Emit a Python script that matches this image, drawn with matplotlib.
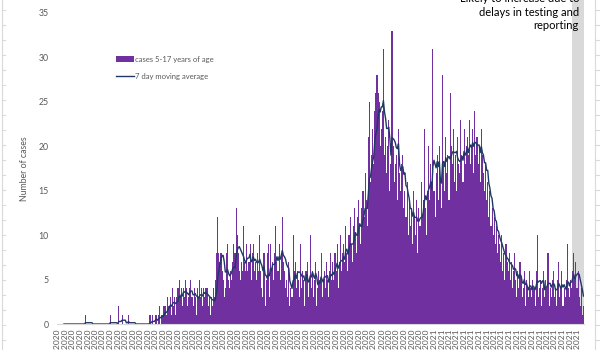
import matplotlib
matplotlib.use("Agg")
import matplotlib.pyplot as plt
import pandas as pd
from matplotlib.lines import Line2D

plt.rcParams["font.family"] = ["Lato", "DejaVu Sans"]

# daily cases, 5-17 years of age
start_date = "2020-01-20"
cases_jan_apr = [
    0, 0, 0, 0, 0, 0, 0, 0, 0, 0,
    0, 0, 0, 0, 0, 0, 0, 0, 0, 0,
    0, 0, 0, 0, 0, 0, 1, 0, 0, 0,
    0, 0, 0, 0, 0, 0, 0, 0, 0, 0,
    0, 0, 0, 0, 0, 0, 0, 0, 0, 1,
    0, 0, 0, 0, 0, 0, 0, 2, 0, 0,
    1, 0, 0, 0, 0, 0, 1, 0, 0, 0,
    0, 0, 0, 0, 0, 0, 0, 0, 0, 0,
    0, 0, 0, 0, 0, 0,
]
cases_apr_may = [1, 0, 1, 0, 0, 1, 1, 0, 1, 2, 0, 1, 1, 2]
cases_may = [2, 1, 3, 2, 2, 3, 1, 4, 2, 3, 1, 3, 4]
cases_may_jun = [5, 3, 4, 2, 4, 3, 5, 4, 2, 3, 4, 5, 3, 2, 4, 3, 1, 4, 3, 5]
cases_jun = [3, 4, 2, 4, 3, 4, 4, 2, 3, 1, 3, 2, 4, 3, 5]
cases_jun_jul = [8, 12, 8, 7, 8, 6, 5, 3, 4, 8, 9, 5, 4]
cases_jul = [6, 5, 7, 9, 8, 13, 10, 8, 6, 5, 7, 6, 11, 7, 6]
cases_jul_aug = [9, 6, 7, 9, 5, 8, 9, 6, 7, 5, 8, 6, 10, 6, 4,
                 3, 8, 2, 5, 8, 9, 3, 9, 6, 7]
cases_aug = [5, 8, 11, 7, 6, 9, 5, 8, 12, 7, 6, 4, 5, 3, 7, 2, 4, 3, 10, 6]
cases_aug_sep = [7, 4, 6, 5, 3, 9, 4, 6, 5, 2, 6, 7, 3, 5, 10, 4, 6, 3,
                 5, 7, 2, 4, 6, 5, 8, 3, 5, 6, 4, 7, 5, 3, 6, 8, 5]
cases_oct = [7, 5, 8, 6, 9, 4, 7, 10, 6, 8, 9, 7, 11, 8, 6, 10, 12, 9,
             7, 11, 13, 10, 8, 12, 14, 11, 9, 13, 15, 12, 17, 14, 11, 21, 25]
cases_nov = [16, 19, 22, 18, 24, 26, 28, 26, 25, 20, 22, 24, 31, 19, 21,
             17, 20, 23, 15, 18, 33, 20, 16, 18, 19, 14, 22, 17, 15, 18]
cases_dec = [19, 13, 15, 12, 16, 10, 14, 11, 13, 9, 15, 12, 10, 14, 8,
             13, 11, 16, 12, 14, 22, 13, 10, 15, 20]
cases_jan = [14, 18, 16, 31, 15, 12, 17, 19, 14, 20, 16, 13, 28, 18, 15,
             21, 17, 19, 14, 26, 20, 18, 22, 16, 19, 15, 21, 18, 17, 23,
             19, 16, 22, 18, 20]
cases_feb = [21, 19, 23, 18, 20, 22, 17, 24, 19, 21, 18, 20, 16, 22, 19,
             17, 15, 18, 14, 16, 12, 15, 11, 13, 10, 12, 9, 11, 8, 10]
cases_mar = [9, 7, 10, 6, 8, 5, 9, 7, 6, 8, 5, 7, 4, 6, 8,
             5, 3, 6, 4, 7, 5, 3, 4, 6, 2, 5, 4, 3, 6, 4]
cases_apr = [3, 5, 4, 2, 6, 10, 3, 4, 5, 2, 4, 6, 3, 5, 4, 8, 2, 4, 3,
             5, 6, 3, 4, 2, 5, 7, 3, 4, 6, 2, 4, 3, 5, 9, 4, 3, 5, 4]
cases_may_2021 = [6, 8, 5, 7, 4, 6, 3, 2, 4, 1, 2]

shade_start = "2021-05-13"
note = "Likely to increase due to\ndelays in testing and\nreporting"

cases = (cases_jan_apr + cases_apr_may + cases_may + cases_may_jun + cases_jun
         + cases_jun_jul + cases_jul + cases_jul_aug + cases_aug + cases_aug_sep
         + cases_oct + cases_nov + cases_dec + cases_jan + cases_feb + cases_mar
         + cases_apr + cases_may_2021)
dates = pd.date_range(start_date, periods=len(cases), freq="D")
moving_avg = pd.Series(cases).rolling(7).mean()
x = list(range(len(cases)))

grey = "#595959"
fig = plt.figure(figsize=(6, 3.5), dpi=100)
ax = fig.add_axes([57 / 600, 26 / 350, 527 / 600, 311 / 350])

bars = ax.bar(x, cases, width=1.0, color="#7030A0", linewidth=0,
              label="cases 5-17 years of age")
line, = ax.plot(x, moving_avg, color="#1F3864", linewidth=1.0,
                label="7 day moving average")

# shaded "incomplete data" region, runs up past the plot top
s = dates.get_loc(pd.Timestamp(shade_start)) - 0.5
band = ax.axvspan(s, len(cases) - 0.5, ymin=0, ymax=1 + 13 / 311,
                  color="#D9D9D9", linewidth=0, zorder=0)
band.set_clip_on(False)

ax.set_xlim(-0.5, len(cases) - 0.5)
ax.set_ylim(0, 35)
ax.set_yticks(range(0, 36, 5))
ax.tick_params(axis="y", length=0, pad=6, labelsize=6.3, labelcolor=grey)

tick_pos = x[::7]
ax.set_xticks(tick_pos)
ax.set_xticklabels([dates[i].strftime("%d/%m/%Y") for i in tick_pos],
                   rotation=90, fontsize=6, color=grey)
ax.tick_params(axis="x", length=0, pad=3)

for side in ["top", "right", "left"]:
    ax.spines[side].set_visible(False)
ax.spines["bottom"].set_color("#D9D9D9")
ax.spines["bottom"].set_linewidth(0.8)

ax.set_ylabel("Number of cases", fontsize=6.3, color=grey)
ax.yaxis.set_label_coords(-0.054, 0.5)

ax.legend(handles=[bars, line], loc="upper left",
          bbox_to_anchor=(0.098, 0.885), frameon=False,
          fontsize=5.5, labelcolor=grey, handlelength=2.4, handleheight=0.7,
          handletextpad=0.2, labelspacing=1.3)

fig.text(579 / 600, 1 - 31 / 350, note, ha="right", va="bottom",
         multialignment="right", fontsize=8, color="black", linespacing=1.25)

# spreadsheet cell gridlines at the picture edges
for xe, d in [(1.5, 3), (594.5, 6)]:
    fig.add_artist(Line2D([xe / 600, xe / 600], [0, 1], transform=fig.transFigure,
                          color="#D9D9D9", linewidth=0.8))
    for yp in range(10, 350, 15):
        fig.add_artist(Line2D([xe / 600, (xe + d) / 600],
                              [1 - yp / 350, 1 - yp / 350],
                              transform=fig.transFigure,
                              color="#D9D9D9", linewidth=0.8))

fig.savefig("out.png", dpi=100)
